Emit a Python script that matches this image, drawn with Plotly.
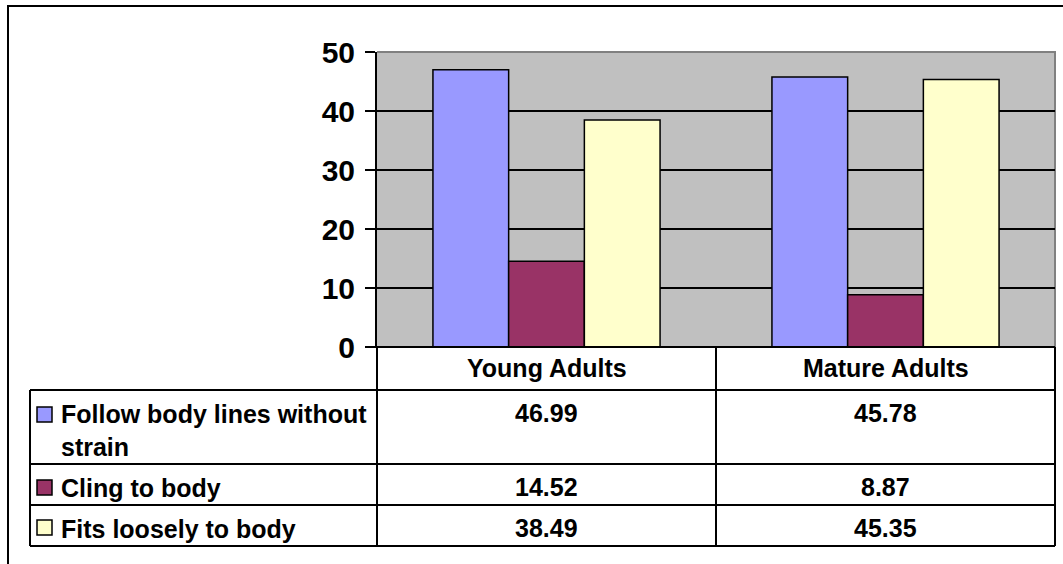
import plotly.graph_objects as go

# Chart data
categories = ["Young Adults", "Mature Adults"]
series_names = ["Follow body lines without strain", "Cling to body", "Fits loosely to body"]
row_labels = ["Follow body lines without<br>strain", "Cling to body", "Fits loosely to body"]
follow_lines = [46.99, 45.78]
cling = [14.52, 8.87]
fits_loosely = [38.49, 45.35]
series_values = [follow_lines, cling, fits_loosely]
colors = ["#9999FF", "#993366", "#FFFFCC"]
y_ticks = [0, 10, 20, 30, 40, 50]

W, H = 1063, 564
FONT = "Liberation Sans, Arial, sans-serif"


def px(x):
    return x / W


def py(y):
    return 1 - y / H


fig = go.Figure()
for name, vals, col in zip(series_names, series_values, colors):
    fig.add_trace(go.Bar(
        x=categories, y=vals, name=name,
        marker=dict(color=col, line=dict(color="black", width=1.5)),
        showlegend=False,
    ))

# plot area edges
plot_l, plot_r, plot_t, plot_b = 377, 1055, 52, 347
# data table geometry
tbl_l = 30
header_b = 390
row_bounds = [390, 464, 505, 546]
col_lines = [377, 716, 1055]

shapes = []
# outer chart frame (right/bottom edges sit past the page)
shapes.append(dict(type="path", xref="paper", yref="paper",
                   path=f"M {px(8)} {py(H)} L {px(8)} {py(6)} L {px(W)} {py(6)}",
                   line=dict(color="black", width=2)))
# grey border along top and right of plot area
shapes.append(dict(type="path", xref="paper", yref="paper", layer="between",
                   path=f"M {px(plot_l)} {py(plot_t)} L {px(plot_r)} {py(plot_t)} L {px(plot_r)} {py(plot_b)}",
                   line=dict(color="#808080", width=2)))

line_style = dict(color="black", width=2)
# table horizontal rules
shapes.append(dict(type="line", xref="paper", yref="paper",
                   x0=px(367), x1=px(plot_r), y0=py(plot_b), y1=py(plot_b), line=line_style))
for yb in row_bounds:
    shapes.append(dict(type="line", xref="paper", yref="paper",
                       x0=px(tbl_l), x1=px(plot_r), y0=py(yb), y1=py(yb), line=line_style))
# table vertical rules
shapes.append(dict(type="line", xref="paper", yref="paper",
                   x0=px(tbl_l), x1=px(tbl_l), y0=py(header_b), y1=py(row_bounds[-1]), line=line_style))
for xc in col_lines:
    shapes.append(dict(type="line", xref="paper", yref="paper",
                       x0=px(xc), x1=px(xc), y0=py(plot_b), y1=py(row_bounds[-1]), line=line_style))

# legend keys in the table
key_tops = [407, 480, 520]
for yt, col in zip(key_tops, colors):
    shapes.append(dict(type="rect", xref="paper", yref="paper",
                       x0=px(37), x1=px(52), y0=py(yt), y1=py(yt + 15),
                       fillcolor=col, line=dict(color="black", width=1.5)))

annotations = []
tfont = dict(family=FONT, size=25, color="black", weight="bold")
# column headers
for cat in categories:
    annotations.append(dict(x=cat, xref="x", y=py(368), yref="paper", text=cat,
                            showarrow=False, font=tfont, xanchor="center", yanchor="middle"))
# row labels and values
row_text_y = [413, 487, 528]
for lbl, vals, ty in zip(row_labels, series_values, row_text_y):
    annotations.append(dict(x=px(59), xref="paper", y=py(ty - 15), yref="paper", text=lbl,
                            showarrow=False, font=tfont, xanchor="left", yanchor="top",
                            align="left"))
    for cat, v in zip(categories, vals):
        annotations.append(dict(x=cat, xref="x", y=py(ty), yref="paper", text=f"{v:.2f}",
                                showarrow=False, font=tfont, xanchor="center", yanchor="middle"))

fig.update_layout(
    width=W, height=H,
    autosize=False,
    margin=dict(l=0, r=0, t=0, b=0, pad=0),
    paper_bgcolor="white",
    plot_bgcolor="#C0C0C0",
    barmode="group",
    bargap=0.33,
    bargroupgap=0,
    xaxis=dict(domain=[px(plot_l), px(plot_r)], showgrid=False, showline=False,
               ticks="", showticklabels=False, zeroline=False, fixedrange=True,
               automargin=False),
    yaxis=dict(domain=[py(plot_b), py(plot_t)], range=[0, 50], tickvals=y_ticks,
               showgrid=True, gridcolor="black", gridwidth=1.5,
               showline=True, linecolor="black", linewidth=2,
               ticks="outside", ticklen=10, tickwidth=2, tickcolor="black",
               tickfont=dict(family=FONT, size=30, color="black", weight="bold"),
               ticklabelstandoff=4, zeroline=False, fixedrange=True,
               automargin=False),
    shapes=shapes,
    annotations=annotations,
)

fig.write_html("out.html", config=dict(displayModeBar=False))
